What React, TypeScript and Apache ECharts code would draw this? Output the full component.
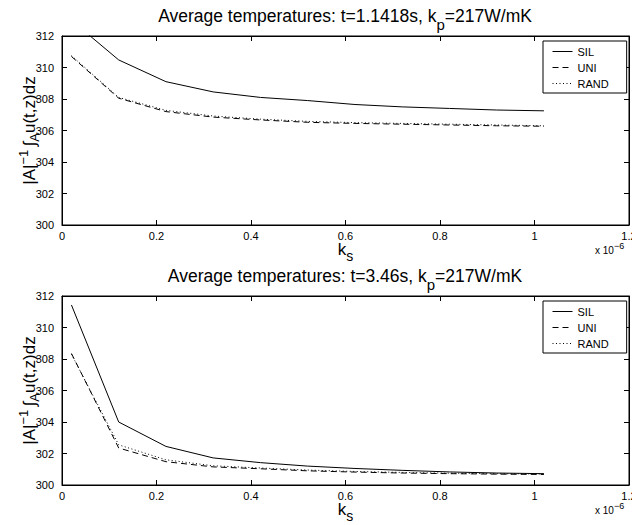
import React, { useEffect, useRef } from "react";
import * as echarts from "echarts";

const FONT = '"Liberation Sans", Arial, Helvetica, sans-serif';

// k_s values (x 10^-6)
const ksValues = [0.02, 0.12, 0.22, 0.32, 0.42, 0.52, 0.62, 0.72, 0.82, 0.92, 1.02];

// t = 1.1418 s
const silTop = [313.0, 310.48, 309.1, 308.45, 308.1, 307.9, 307.65, 307.5, 307.4, 307.3, 307.25];
const uniTop = [310.7, 308.05, 307.2, 306.85, 306.67, 306.52, 306.45, 306.4, 306.35, 306.3, 306.27];
const randTop = [310.75, 308.1, 307.28, 306.92, 306.72, 306.58, 306.5, 306.45, 306.4, 306.35, 306.3];

// t = 3.46 s
const silBottom = [311.43, 304.0, 302.45, 301.72, 301.42, 301.2, 301.05, 300.93, 300.83, 300.76, 300.72];
const uniBottom = [308.35, 302.35, 301.48, 301.15, 301.03, 300.9, 300.82, 300.76, 300.72, 300.69, 300.67];
const randBottom = [308.3, 302.55, 301.6, 301.22, 301.08, 300.95, 300.86, 300.8, 300.75, 300.72, 300.7];

const seriesNames = ["SIL", "UNI", "RAND"];
const titles = [
  ["Average temperatures: t=1.1418s, k", "p", "=217W/mK"],
  ["Average temperatures: t=3.46s, k", "p", "=217W/mK"],
];
const xTicks = { min: 0, max: 1.2, interval: 0.2 };
const yTicks = { min: 300, max: 312, interval: 2 };

const lineTypes: any[] = ["solid", [6, 4], [1, 2.5]];

const axisLineOpt = () => ({ show: true, onZero: false, lineStyle: { color: "#000", width: 1 } });
const axisTickOpt = () => ({ show: true, inside: true, length: 5, lineStyle: { color: "#000", width: 1 } });

export default function App() {
  const ref = useRef<HTMLDivElement>(null);

  useEffect(() => {
    document.body.style.margin = "0";
    if (!ref.current) return;
    const chart = echarts.init(ref.current, null, { renderer: "svg" });

    const gridLeft = 62;
    const gridWidth = 567;
    const gridHeight = 189;
    const gridTops = [36, 296];
    const offsets = [0, 260];

    const titleRich = {
      a: { fontSize: 17.5, lineHeight: 19, fontFamily: FONT, fontWeight: "normal", color: "#000", verticalAlign: "top" },
      sub: { fontSize: 15, lineHeight: 16, fontFamily: FONT, fontWeight: "normal", color: "#000", verticalAlign: "top", padding: [10, 0, 0, 0] },
    };

    const yNameRich = {
      b: { fontSize: 17, lineHeight: 18, fontFamily: FONT, color: "#000", verticalAlign: "middle" },
      sup: { fontSize: 13, lineHeight: 13, fontFamily: FONT, color: "#000", verticalAlign: "middle", padding: [0, 0, 11, 0] },
      sub: { fontSize: 13, lineHeight: 13, fontFamily: FONT, color: "#000", verticalAlign: "middle", padding: [11, 0, 0, 0] },
    };

    const xNameRich = {
      b: { fontSize: 17, lineHeight: 17, fontFamily: FONT, color: "#000", verticalAlign: "top" },
      sub: { fontSize: 14, lineHeight: 11, fontFamily: FONT, color: "#000", verticalAlign: "top", padding: [8, 0, 0, 0] },
    };

    const xAxes: any[] = [];
    const yAxes: any[] = [];
    const grids: any[] = [];
    const series: any[] = [];
    const legends: any[] = [];
    const titleOpts: any[] = [];
    const graphics: any[] = [];

    const dataSets = [
      [silTop, uniTop, randTop],
      [silBottom, uniBottom, randBottom],
    ];

    for (let g = 0; g < 2; g++) {
      grids.push({
        left: gridLeft,
        top: gridTops[g],
        width: gridWidth,
        height: gridHeight,
        containLabel: false,
        outerBoundsMode: "none",
        show: true,
        borderColor: "#000",
        borderWidth: 1,
        backgroundColor: "transparent",
      });
      xAxes.push({
        type: "value",
        gridIndex: g,
        position: "bottom",
        ...xTicks,
        axisLine: axisLineOpt(),
        axisTick: axisTickOpt(),
        splitLine: { show: false },
        axisLabel: {
          color: "#000",
          fontSize: 11,
          fontFamily: FONT,
          margin: 5,
          formatter: (v: number) => String(+v.toFixed(1)),
        },
        name: "{b|k}{sub|s}",
        nameLocation: "middle",
        nameGap: 16,
        nameMoveOverlap: false,
        nameTextStyle: { rich: xNameRich, verticalAlign: "top" },
      });
      xAxes.push({
        type: "value",
        gridIndex: g,
        position: "top",
        ...xTicks,
        axisLine: axisLineOpt(),
        axisTick: axisTickOpt(),
        splitLine: { show: false },
        axisLabel: { show: false },
      });
      yAxes.push({
        type: "value",
        gridIndex: g,
        position: "left",
        ...yTicks,
        axisLine: axisLineOpt(),
        axisTick: axisTickOpt(),
        splitLine: { show: false },
        axisLabel: { color: "#000", fontSize: 11, fontFamily: FONT, margin: 8 },
        name: "{b||A|}{sup|−1} {b|∫}{sub|A}{b|u(t,z)dz}",
        nameLocation: "middle",
        nameRotate: 90,
        nameGap: 24,
        nameMoveOverlap: false,
        nameTextStyle: { rich: yNameRich },
      });
      yAxes.push({
        type: "value",
        gridIndex: g,
        position: "right",
        ...yTicks,
        axisLine: axisLineOpt(),
        axisTick: axisTickOpt(),
        splitLine: { show: false },
        axisLabel: { show: false },
      });

      dataSets[g].forEach((vals, i) => {
        series.push({
          type: "line",
          name: seriesNames[i],
          xAxisIndex: g * 2,
          yAxisIndex: g * 2,
          data: ksValues.map((x, k) => [x, vals[k]]),
          symbol: "none",
          showSymbol: false,
          clip: true,
          silent: true,
          z: 3 - i,
          itemStyle: { color: "#000" },
          lineStyle: { color: "#000", width: 1, type: lineTypes[i] },
        });
      });

      legends.push({
        data: seriesNames,
        orient: "vertical",
        left: 543,
        top: 41 + offsets[g],
        padding: [5, 18, 4, 9],
        itemWidth: 20,
        itemHeight: 11,
        itemGap: 5,
        borderColor: "#000",
        borderWidth: 1,
        borderRadius: 0,
        backgroundColor: "#fff",
        selectedMode: false,
        itemStyle: { opacity: 0 },
        lineStyle: { width: 1, color: "#000" },
        textStyle: { color: "#000", fontSize: 11, fontFamily: FONT },
      });

      titleOpts.push({
        text: `{a|${titles[g][0]}}{sub|${titles[g][1]}}{a|${titles[g][2]}}`,
        left: 345,
        top: 7 + offsets[g],
        textAlign: "center",
        padding: 0,
        textStyle: { rich: titleRich, fontWeight: "normal" },
      });

      graphics.push({
        type: "text",
        x: 595,
        y: 250 + offsets[g],
        style: {
          text: "{b|x 10}{sup|−6}",
          verticalAlign: "middle",
          rich: {
            b: { fontSize: 10, lineHeight: 12, fontFamily: FONT, fill: "#000", verticalAlign: "middle" },
            sup: { fontSize: 9, lineHeight: 10, fontFamily: FONT, fill: "#000", verticalAlign: "middle", padding: [0, 0, 9, 0] },
          },
        },
      });
    }

    chart.setOption({
      animation: false,
      backgroundColor: "#fff",
      textStyle: { fontFamily: FONT },
      title: titleOpts,
      grid: grids,
      xAxis: xAxes,
      yAxis: yAxes,
      legend: legends,
      series,
      graphic: graphics,
    });

    return () => chart.dispose();
  }, []);

  return <div ref={ref} style={{ width: 632, height: 525 }} />;
}
